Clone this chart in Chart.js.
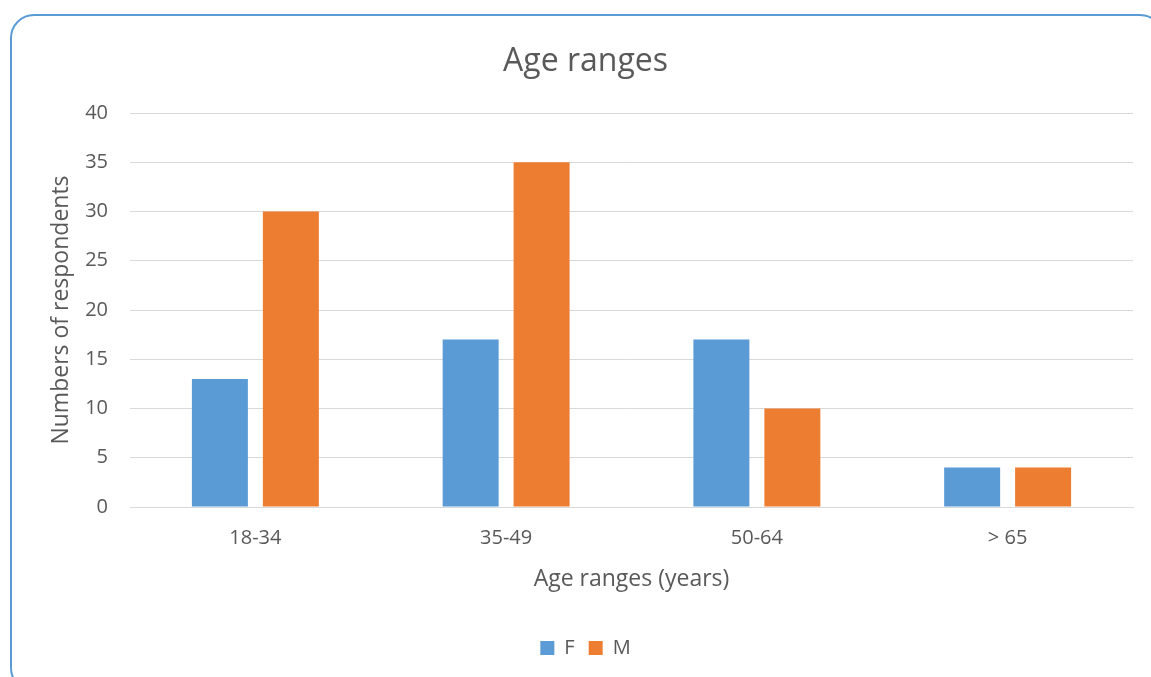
<!DOCTYPE html>
<html>
<head>
<meta charset="utf-8">
<script src="https://cdn.jsdelivr.net/npm/chart.js@4/dist/chart.umd.min.js"></script>
<style>
  html, body { margin: 0; padding: 0; background: #ffffff; overflow: hidden; }
  #frame {
    position: absolute; left: 10px; top: 14px; width: 1154px; height: 678px;
    border: 2px solid #5B9BD5; border-radius: 24px; box-sizing: border-box;
  }
  #wrap { position: absolute; left: 0; top: 0; width: 1151px; height: 677px; }
</style>
</head>
<body>
<div id="frame"></div>
<div id="wrap"><canvas id="chart" width="1151" height="677"></canvas></div>
<script>
const categories = ['18-34', '35-49', '50-64', '> 65'];
const femaleCounts = [13, 17, 17, 4];
const maleCounts = [30, 35, 10, 4];
const yTicks = [0, 5, 10, 15, 20, 25, 30, 35, 40];

const textColor = '#595959';
const fontFamily = '"Open Sans", "Noto Sans", sans-serif';

new Chart(document.getElementById('chart'), {
  type: 'bar',
  data: {
    labels: categories,
    datasets: [
      { label: 'F', data: femaleCounts, backgroundColor: '#5B9BD5' },
      { label: 'M', data: maleCounts, backgroundColor: '#ED7D31' }
    ]
  },
  options: {
    responsive: false,
    animation: false,
    devicePixelRatio: 1,
    categoryPercentage: 0.566,
    barPercentage: 0.789,
    layout: { padding: { left: 38, right: 18, top: 0, bottom: 9 } },
    plugins: {
      title: {
        display: true,
        text: 'Age ranges',
        color: textColor,
        font: { family: fontFamily, size: 32, weight: 'normal' },
        padding: { top: 43, bottom: 31.6 }
      },
      legend: {
        position: 'bottom',
        labels: {
          color: textColor,
          font: { family: fontFamily, size: 20 },
          boxWidth: 14,
          boxHeight: 14,
          padding: 14
        }
      },
      tooltip: { enabled: false }
    },
    scales: {
      x: {
        grid: { display: false, drawTicks: false },
        border: { display: true, color: '#D9D9D9', width: 1 },
        ticks: { color: textColor, font: { family: fontFamily, size: 20 }, padding: 19 },
        title: {
          display: true,
          text: 'Age ranges (years)',
          color: textColor,
          font: { family: fontFamily, size: 23 },
          padding: { top: 0, bottom: 31 }
        },
        afterFit: (scale) => { scale.height = 117; }
      },
      y: {
        min: 0,
        max: 40,
        afterBuildTicks: (scale) => { scale.ticks = yTicks.map(v => ({ value: v })); },
        grid: { color: '#D9D9D9', lineWidth: 1, drawTicks: false },
        border: { display: false },
        ticks: { color: textColor, font: { family: fontFamily, size: 20 }, padding: 22 },
        title: {
          display: true,
          text: 'Numbers of respondents',
          color: textColor,
          font: { family: fontFamily, size: 23 },
          padding: { top: 10, bottom: 0 }
        },
        afterFit: (scale) => { scale.width = 92; }
      }
    }
  }
});
</script>
</body>
</html>
